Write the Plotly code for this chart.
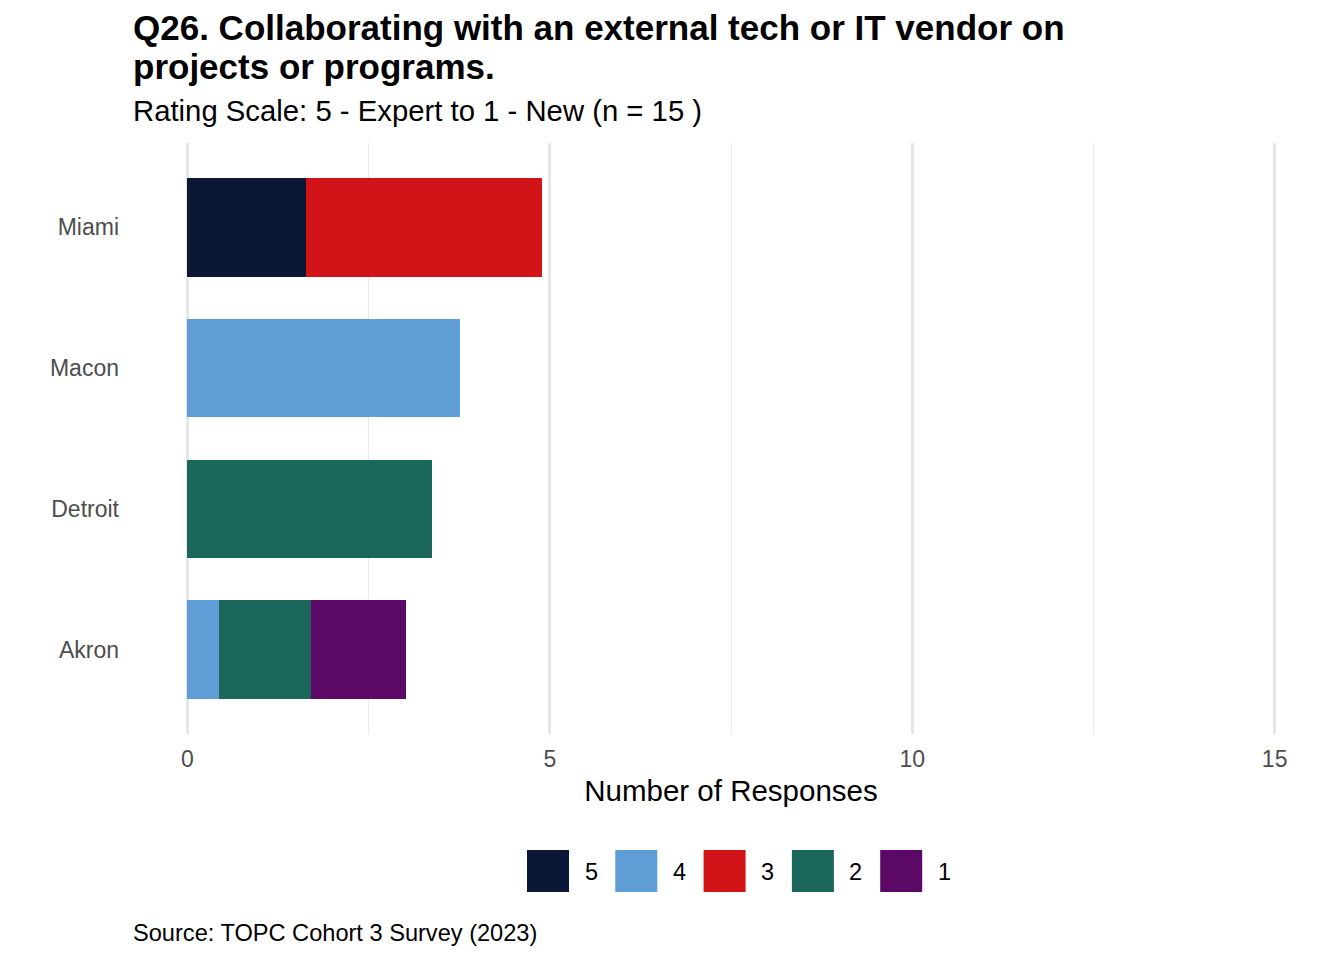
import plotly.graph_objects as go

cities = ["Akron", "Detroit", "Macon", "Miami"]
ratings = ["5", "4", "3", "2", "1"]
colors = {"5": "#0a1836", "4": "#5e9dd5", "3": "#d21419", "2": "#1b675b", "1": "#5c0866"}
values = {
    "5": [0, 0, 0, 1.63],
    "4": [0.43, 0, 3.76, 0],
    "3": [0, 0, 0, 3.26],
    "2": [1.28, 3.38, 0, 0],
    "1": [1.30, 0, 0, 0],
}
x_ticks = [0, 5, 10, 15]

W, H = 1344, 960
L, R, T, B = 133, 15, 143, 226
pw = W - L - R
ph = H - T - B

fig = go.Figure()
for r in ratings:
    fig.add_trace(go.Bar(
        y=cities, x=values[r], orientation="h", name=r,
        marker=dict(color=colors[r], line=dict(width=0)),
        width=0.7, showlegend=False,
    ))

fig.update_layout(
    width=W, height=H, barmode="stack",
    margin=dict(l=L, r=R, t=T, b=B, autoexpand=False),
    plot_bgcolor="white", paper_bgcolor="white",
    font=dict(family="Liberation Sans, Arial, sans-serif", color="#000000"),
    bargap=0.3,
    xaxis=dict(
        range=[-0.75, 15.75], tickvals=x_ticks, ticktext=[str(v) for v in x_ticks],
        showgrid=True, gridcolor="#e6e6e6", gridwidth=2.6,
        minor=dict(tickvals=[2.5, 7.5, 12.5], showgrid=True, gridcolor="#e9e9e9", gridwidth=1.3),
        zeroline=False, showline=False, ticks="",
        tickfont=dict(size=23, color="#4d4d4d"), ticklabelstandoff=9,
        title=dict(text="Number of Responses", font=dict(size=29.5, color="#000000"), standoff=9),
    ),
    yaxis=dict(
        range=[-0.6, 3.6], categoryorder="array", categoryarray=cities,
        showgrid=False, zeroline=False, showline=False, ticks="",
        tickfont=dict(size=23, color="#4d4d4d"), ticklabelstandoff=13,
    ),
)

def px_x(px):
    return (px - L) / pw

def px_y(py):
    return (H - B - py) / ph

title_lines = ["Q26. Collaborating with an external tech or IT vendor on", "projects or programs."]
for i, line in enumerate(title_lines):
    fig.add_annotation(
        x=px_x(131), y=px_y(28 + 38 * i), xref="paper", yref="paper", xanchor="left", yanchor="middle",
        text="<b>" + line + "</b>", showarrow=False, align="left", font=dict(size=35, color="#000000"),
    )
fig.add_annotation(
    x=px_x(131), y=px_y(111), xref="paper", yref="paper", xanchor="left", yanchor="middle",
    text="Rating Scale: 5 - Expert to 1 - New (n = 15 )",
    showarrow=False, align="left", font=dict(size=29.3, color="#000000"),
)
fig.add_annotation(
    x=px_x(131), y=px_y(933), xref="paper", yref="paper", xanchor="left", yanchor="middle",
    text="Source: TOPC Cohort 3 Survey (2023)",
    showarrow=False, align="left", font=dict(size=23.6, color="#000000"),
)

# legend (manual)
key_left = 527
step = 88.3
for i, r in enumerate(ratings):
    x0 = key_left + i * step
    fig.add_shape(type="rect", xref="paper", yref="paper",
                  x0=px_x(x0), x1=px_x(x0 + 42), y0=px_y(892), y1=px_y(850),
                  fillcolor=colors[r], line=dict(width=0))
    fig.add_annotation(x=px_x(x0 + 64), y=px_y(872), xref="paper", yref="paper",
                       xanchor="center", yanchor="middle", text=r, showarrow=False,
                       font=dict(size=23.5, color="#000000"))

fig.write_html("out.html")
